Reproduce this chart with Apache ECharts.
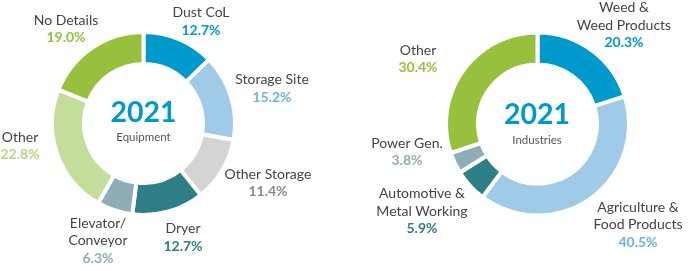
<!DOCTYPE html>
<html><head><meta charset="utf-8">
<script src="https://cdn.jsdelivr.net/npm/echarts@6/dist/echarts.min.js"></script>
<style>html,body{margin:0;padding:0;background:#fff}#c{width:690px;height:271px}</style>
</head><body><div id="c"></div>
<script>
var yearLabel = '2021';
var leftTitle = 'Equipment';
var leftNames = ['Dust CoL', 'Storage Site', 'Other Storage', 'Dryer', 'Elevator/\nConveyor', 'Other', 'No Details'];
var leftValues = [12.7, 15.2, 11.4, 12.7, 6.3, 22.8, 19.0];
var rightTitle = 'Industries';
var rightNames = ['Weed &\nWeed Products', 'Agriculture &\nFood Products', 'Automotive &\nMetal Working', 'Power Gen.', 'Other'];
var rightValues = [20.3, 40.5, 5.9, 3.8, 30.4];

var leftColors = ['#0099cc', '#9fcbe9', '#d3d4d6', '#2e7e88', '#8fadb4', '#c4dd9a', '#97c13c'];
var leftTextColors = ['#0099cc', '#6ab3e0', '#8a8b8e', '#2e7e88', '#8fadb4', '#b6d585', '#97c13c'];
var rightColors = ['#0099cc', '#9fcbe9', '#2e7e88', '#8fadb4', '#97c13c'];
var rightTextColors = ['#0099cc', '#6ab3e0', '#2e7e88', '#8fadb4', '#97c13c'];

var leftLabelPos = [[201, 21.5], [272, 88.5], [268, 183], [183, 237.5], [98, 240.5], [20, 146], [66, 29]];
var rightLabelPos = [[624, 25], [638, 224.5], [422, 211], [407, 152], [418, 59]];

var FONT = 'Lato';

function mkData(names, values, colors, tcolors) {
  return names.map(function (n, i) {
    var rich = {
      n: { fontFamily: FONT, fontSize: 14, color: '#444', lineHeight: 17.5, align: 'center' },
      p: { fontFamily: FONT, fontSize: 14, fontWeight: 'bold', color: tcolors[i], lineHeight: 17.5, align: 'center' }
    };
    return { name: n, value: values[i], itemStyle: { color: colors[i] }, label: { rich: rich } };
  });
}
function fmt(p) {
  var lines = p.name.split('\n').map(function (l) { return '{n|' + l + '}'; });
  lines.push('{p|' + p.value.toFixed(1) + '%}');
  return lines.join('\n');
}
function mkSeries(names, values, colors, tcolors, center, pos) {
  return {
    type: 'pie',
    center: center,
    radius: [59.5, 91.5],
    startAngle: 90,
    clockwise: true,
    silent: true,
    animation: false,
    avoidLabelOverlap: false,
    itemStyle: { borderColor: '#fff', borderWidth: 4 },
    label: { show: true, position: 'outside', formatter: fmt, align: 'center' },
    labelLine: { show: false },
    labelLayout: function (params) {
      var q = pos[params.dataIndex];
      return { x: q[0], y: q[1], align: 'center', verticalAlign: 'middle' };
    },
    data: mkData(names, values, colors, tcolors)
  };
}
var chart = echarts.init(document.getElementById('c'), null, { renderer: 'canvas' });
chart.setOption({
  animation: false,
  series: [
    mkSeries(leftNames, leftValues, leftColors, leftTextColors, [143.5, 123.5], leftLabelPos),
    mkSeries(rightNames, rightValues, rightColors, rightTextColors, [537.5, 124], rightLabelPos)
  ],
  graphic: [
    { type: 'text', x: 143.5, y: 113, style: { text: yearLabel, fontFamily: FONT, fontSize: 28.5, fontWeight: 'bold', fill: '#0099cc', align: 'center', verticalAlign: 'middle' } },
    { type: 'text', x: 143.5, y: 137, style: { text: leftTitle, fontFamily: FONT, fontSize: 11.5, fill: '#555', align: 'center', verticalAlign: 'middle' } },
    { type: 'text', x: 537, y: 115, style: { text: yearLabel, fontFamily: FONT, fontSize: 28.5, fontWeight: 'bold', fill: '#0099cc', align: 'center', verticalAlign: 'middle' } },
    { type: 'text', x: 537, y: 140, style: { text: rightTitle, fontFamily: FONT, fontSize: 11.5, fill: '#555', align: 'center', verticalAlign: 'middle' } }
  ]
});
</script></body></html>
